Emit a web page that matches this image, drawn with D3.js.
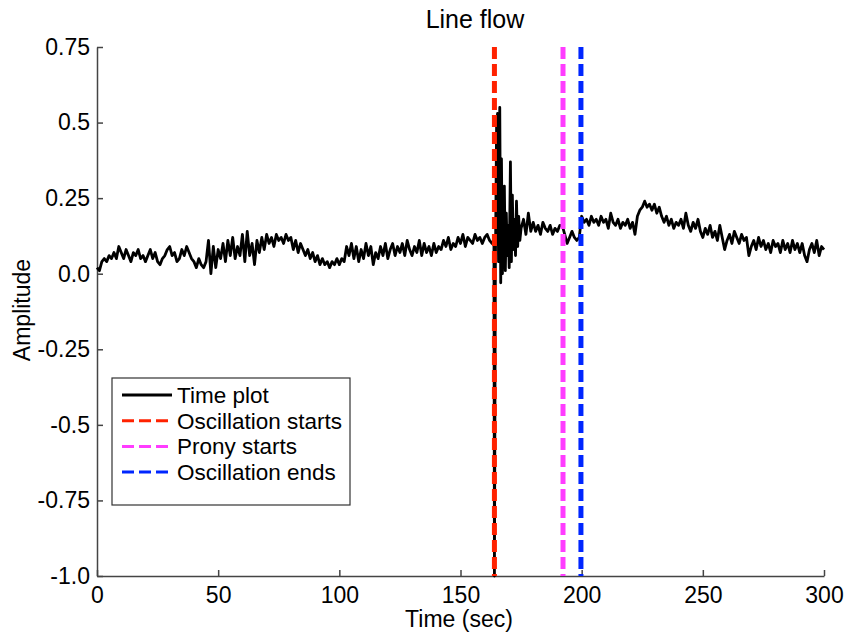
<!DOCTYPE html>
<html lang="en">
<head>
  <meta charset="UTF-8" />
  <title>Line flow</title>
  <script src="https://d3js.org/d3.v7.min.js"></script>
  <style>
    body { margin: 0; background: #fff; }
    text { font-family: "Liberation Sans", Arial, sans-serif; fill: #000; }
    .axis path, .axis line { stroke: #444; stroke-width: 1.5px; }
    .axis text { font-size: 23px; }
  </style>
</head>
<body>
<div id="chart"></div>
<script>
// Amplitude sampled once per second, t = 0 .. 163
const amplitudeA = [
  0.02, 0.01, 0.04, 0.05, 0.04, 0.06, 0.05, 0.07, 0.05, 0.09,
  0.07, 0.05, 0.08, 0.06, 0.04, 0.07, 0.06, 0.08, 0.05, 0.06,
  0.04, 0.06, 0.08, 0.05, 0.07, 0.04, 0.03, 0.05, 0.06, 0.08,
  0.09, 0.06, 0.07, 0.04, 0.05, 0.08, 0.06, 0.09, 0.07, 0.05,
  0.04, 0.02, 0.05, 0.03, 0.02, 0.04, 0.11, 0.00, 0.09, 0.02,
  0.08, 0.05, 0.10, 0.04, 0.11, 0.06, 0.12, 0.05, 0.09, 0.06,
  0.13, 0.04, 0.14, 0.06, 0.10, 0.03, 0.11, 0.07, 0.12, 0.08,
  0.13, 0.10, 0.12, 0.09, 0.13, 0.11, 0.12, 0.10, 0.13, 0.11,
  0.12, 0.08, 0.11, 0.07, 0.10, 0.08, 0.06, 0.08, 0.05, 0.07,
  0.04, 0.06, 0.03, 0.05, 0.03, 0.04, 0.02, 0.04, 0.03, 0.05,
  0.03, 0.05, 0.04, 0.09, 0.06, 0.10, 0.05, 0.09, 0.04, 0.08,
  0.05, 0.10, 0.06, 0.09, 0.03, 0.07, 0.05, 0.09, 0.06, 0.10,
  0.05, 0.08, 0.10, 0.06, 0.09, 0.07, 0.10, 0.06, 0.11, 0.08,
  0.06, 0.09, 0.07, 0.11, 0.06, 0.10, 0.07, 0.09, 0.06, 0.10,
  0.07, 0.09, 0.08, 0.11, 0.09, 0.12, 0.08, 0.10, 0.09, 0.12,
  0.10, 0.13, 0.09, 0.12, 0.11, 0.10, 0.13, 0.11, 0.12, 0.10,
  0.12, 0.13, 0.11, 0.10
];

// Disturbance around the oscillation start (finer time steps)
const spikeTime = [163.8, 164.0, 164.4, 164.9, 165.3, 165.7, 166.2, 166.6, 166.9, 167.3,
  167.7, 168.1, 168.5, 168.9, 169.3, 169.7, 170.1, 170.6, 171.0, 171.4,
  171.8, 172.2, 172.7, 173.1, 173.6, 174.0, 174.5, 175.0, 176.0, 177.0, 178.0, 179.0];
const spikeAmp = [0.10, -1.0, 0.03, 0.50, 0.53, 0.04, 0.55, -0.03, 0.38, 0.00,
  0.22, 0.29, 0.01, 0.20, 0.06, 0.16, 0.02, 0.37, 0.04, 0.26,
  0.08, 0.18, 0.06, 0.24, 0.09, 0.19, 0.11, 0.15, 0.18, 0.13, 0.20, 0.14];

// Amplitude sampled once per second, t = 180 .. 300
const amplitudeB = [
  0.17, 0.14, 0.16, 0.13, 0.17, 0.15, 0.14, 0.16, 0.13, 0.15, 0.14, 0.16,
  0.16, 0.13, 0.10, 0.12, 0.14, 0.12, 0.11, 0.12,
  0.19, 0.17, 0.18, 0.16, 0.19, 0.17, 0.18, 0.16, 0.19, 0.17,
  0.18, 0.15, 0.20, 0.17, 0.16, 0.18, 0.15, 0.17, 0.16, 0.18,
  0.15, 0.17, 0.13, 0.19, 0.21, 0.22, 0.24, 0.22, 0.23, 0.21,
  0.23, 0.20, 0.22, 0.19, 0.17, 0.19, 0.16, 0.18, 0.15, 0.17,
  0.16, 0.18, 0.15, 0.20, 0.16, 0.14, 0.17, 0.15, 0.18, 0.14,
  0.12, 0.15, 0.13, 0.16, 0.12, 0.14, 0.11, 0.16, 0.12, 0.08,
  0.11, 0.13, 0.10, 0.14, 0.12, 0.10, 0.13, 0.11, 0.12, 0.06,
  0.09, 0.11, 0.08, 0.12, 0.09, 0.11, 0.08, 0.10, 0.07, 0.11,
  0.09, 0.10, 0.07, 0.11, 0.08, 0.10, 0.07, 0.11, 0.08, 0.10,
  0.07, 0.10, 0.06, 0.04, 0.08, 0.10, 0.07, 0.11, 0.06, 0.09,
  0.08
];

// Event markers (seconds)
const markerNames = ["Oscillation starts", "Prony starts", "Oscillation ends"];
const markerTimes = [164, 192.3, 199.7];
const markerColors = ["#ff2200", "#ff3cff", "#0026ff"];

const xTicks = [0, 50, 100, 150, 200, 250, 300];
const yTicks = [-1.0, -0.75, -0.5, -0.25, 0, 0.25, 0.5, 0.75];
const yTickLabels = ["-1.0", "-0.75", "-0.5", "-0.25", "0.0", "0.25", "0.5", "0.75"];

// build series
const series = [];
amplitudeA.forEach((v, i) => series.push([i, v]));
spikeTime.forEach((t, i) => series.push([t, spikeAmp[i]]));
amplitudeB.forEach((v, i) => series.push([180 + i, v]));

const width = 847, height = 638;
const svg = d3.select("#chart").append("svg")
  .attr("width", width).attr("height", height);

const x = d3.scaleLinear().domain([0, 300]).range([97, 824]);
const y = d3.scaleLinear().domain([-1, 0.75]).range([576, 47]);

// axes (ticks inward)
svg.append("g").attr("class", "axis")
  .attr("transform", `translate(0,${y(-1)})`)
  .call(d3.axisBottom(x).tickValues(xTicks).tickSize(-6).tickPadding(11).tickSizeOuter(0))
  .call(g => g.selectAll("text").attr("dy", "0.71em"));

svg.append("g").attr("class", "axis")
  .attr("transform", `translate(${x(0)},0)`)
  .call(d3.axisLeft(y).tickValues(yTicks).tickSize(-6).tickPadding(7).tickSizeOuter(0)
    .tickFormat((d, i) => yTickLabels[i]));

// signal
const line = d3.line().x(d => x(d[0])).y(d => y(d[1]));
svg.append("path")
  .datum(series)
  .attr("fill", "none")
  .attr("stroke", "#000")
  .attr("stroke-width", 2.8)
  .attr("stroke-linejoin", "round")
  .attr("d", line);

// event markers
svg.selectAll("line.marker")
  .data(markerTimes)
  .join("line")
  .attr("class", "marker")
  .attr("x1", d => x(d)).attr("x2", d => x(d))
  .attr("y1", y(0.75)).attr("y2", y(-1))
  .attr("stroke", (d, i) => markerColors[i])
  .attr("stroke-width", 5)
  .attr("stroke-dasharray", "12,5");

// titles
svg.append("text").attr("x", 475).attr("y", 28)
  .attr("text-anchor", "middle").style("font-size", "25px").text("Line flow");
svg.append("text").attr("x", 459).attr("y", 627)
  .attr("text-anchor", "middle").style("font-size", "23px").text("Time (sec)");
svg.append("text")
  .attr("transform", "translate(30,310) rotate(-90)")
  .attr("text-anchor", "middle").style("font-size", "23px").text("Amplitude");

// legend
const legendItems = [{ name: "Time plot", color: "#000", dash: null }]
  .concat(markerNames.map((n, i) => ({ name: n, color: markerColors[i], dash: "12,5" })));
const legend = svg.append("g").attr("transform", "translate(112,378)");
legend.append("rect")
  .attr("width", 238).attr("height", 127)
  .attr("fill", "#fff").attr("stroke", "#333").attr("stroke-width", 1.2);
const rows = legend.selectAll("g.row").data(legendItems).join("g")
  .attr("class", "row")
  .attr("transform", (d, i) => `translate(0,${17 + i * 25.7})`);
rows.append("line")
  .attr("x1", 10).attr("x2", 60)
  .attr("stroke", d => d.color).attr("stroke-width", 3)
  .attr("stroke-dasharray", d => d.dash);
rows.append("text")
  .attr("x", 65).attr("dy", "0.35em")
  .style("font-size", "22.5px").text(d => d.name);
</script>
</body>
</html>
